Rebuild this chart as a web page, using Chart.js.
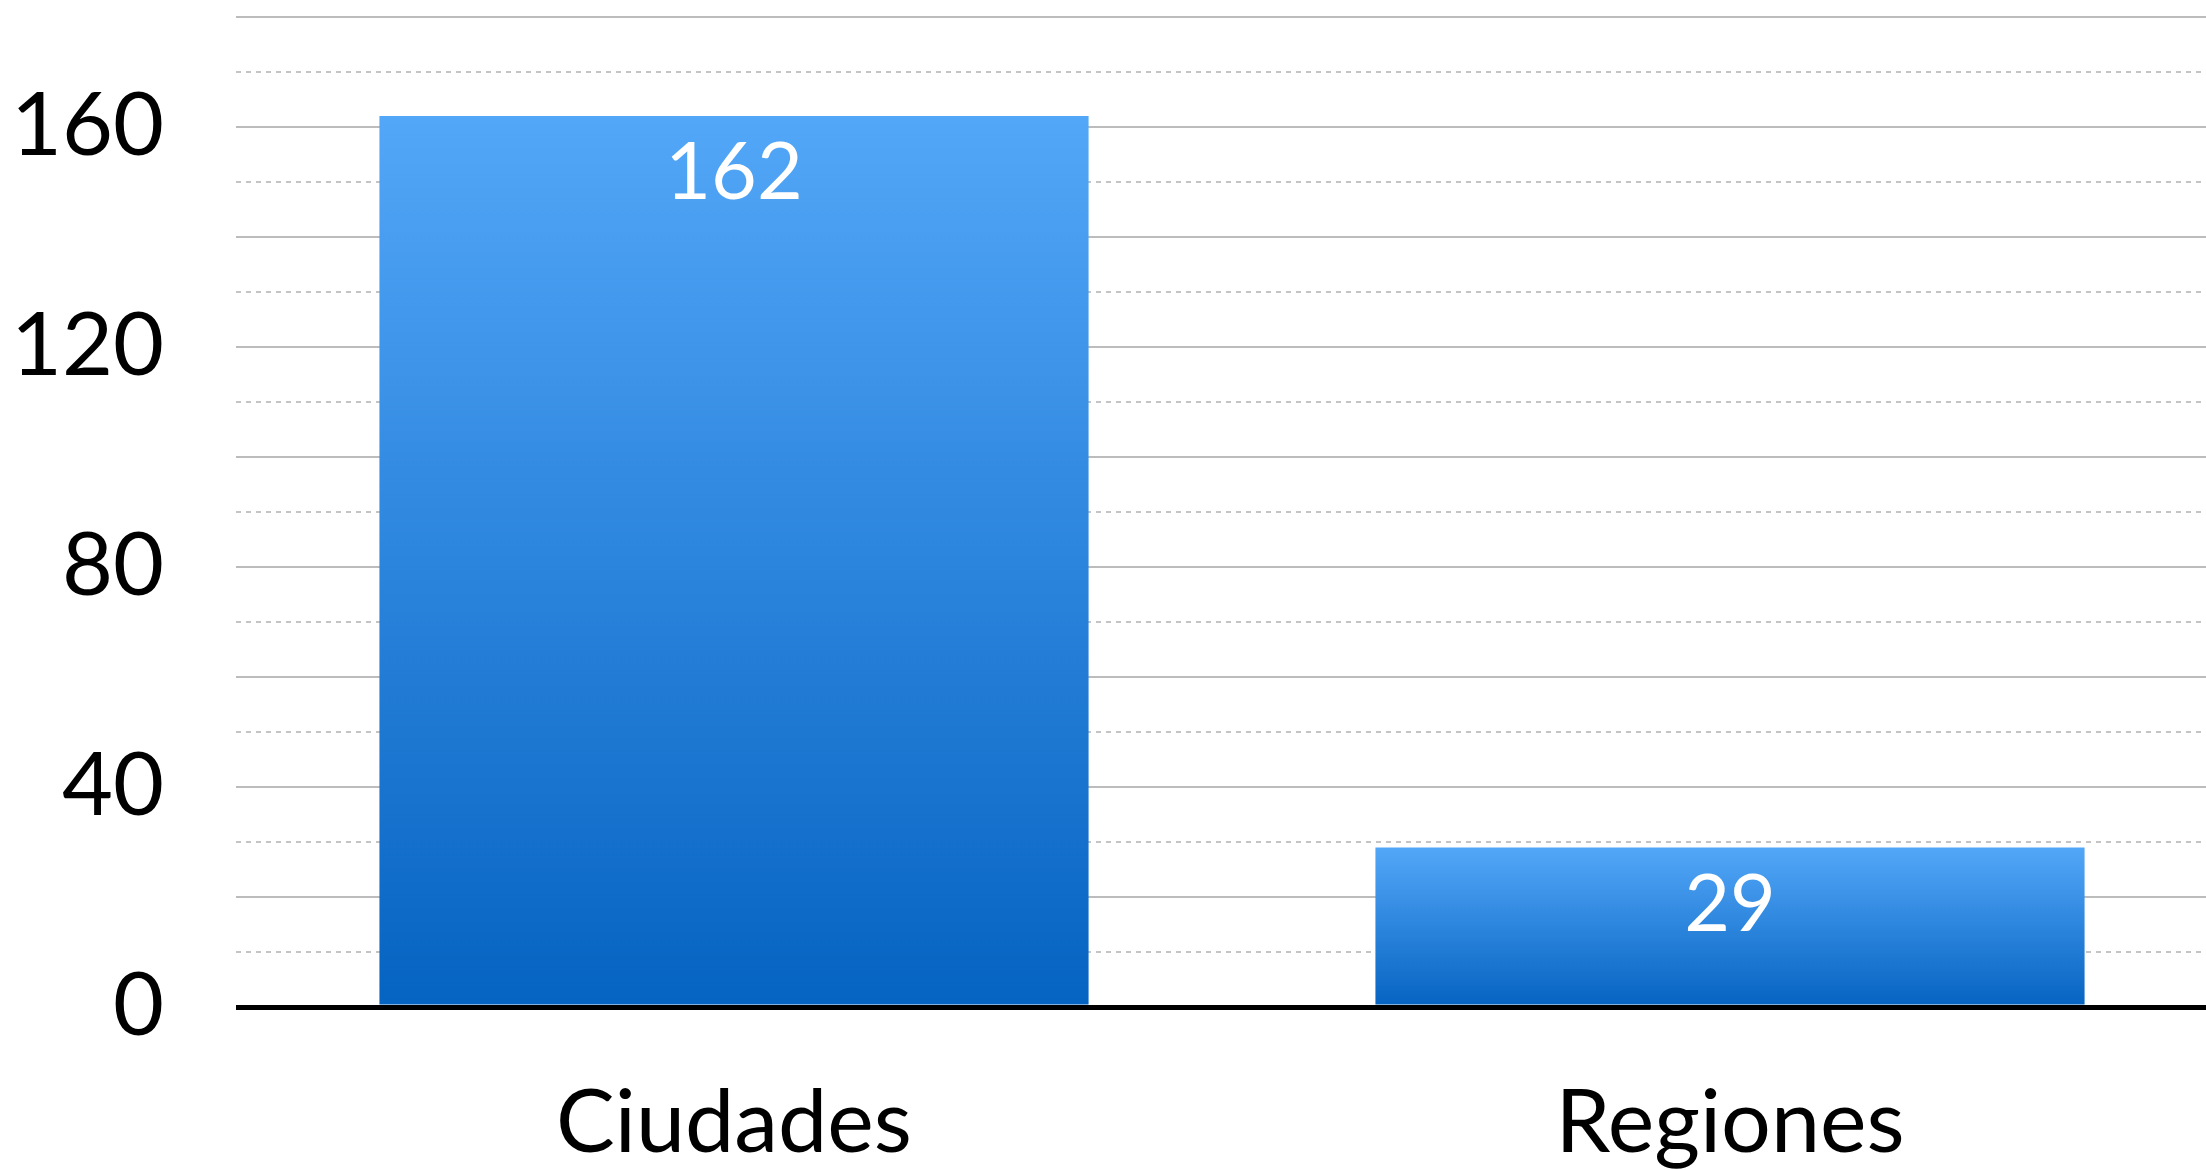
<!DOCTYPE html>
<html>
<head>
<meta charset="utf-8">
<script src="https://cdn.jsdelivr.net/npm/chart.js@4"></script>
<style>
  html, body { margin: 0; padding: 0; background: #fff; overflow: hidden; }
  #wrap { position: absolute; left: 0; top: 0; width: 2228px; height: 1170px; }
</style>
</head>
<body>
<div id="wrap"><canvas id="chart" width="2228" height="1170"></canvas></div>
<script>
const categories = ["Ciudades", "Regiones"]
const values = [162, 29]
const yTickLabels = [0, 40, 80, 120, 160]

const FONT = "Lato, 'Noto Sans', sans-serif"
const TOP_COLOR = "#53a7f8"
const BOTTOM_COLOR = "#0563c1"

// per-bar vertical gradient, light at the top of each bar, dark at its base
function barGradient(c) {
  const chart = c.chart
  if (!chart.chartArea) return TOP_COLOR
  const y = chart.scales.y
  const top = y.getPixelForValue(c.raw)
  const base = y.getPixelForValue(0)
  const g = chart.ctx.createLinearGradient(0, top, 0, base)
  g.addColorStop(0, TOP_COLOR)
  g.addColorStop(1, BOTTOM_COLOR)
  return g
}

const valueLabels = {
  id: "valueLabels",
  afterDatasetsDraw(chart) {
    const ctx = chart.ctx
    const meta = chart.getDatasetMeta(0)
    ctx.save()
    ctx.fillStyle = "#fff"
    ctx.font = "79px " + FONT
    ctx.textAlign = "center"
    ctx.textBaseline = "alphabetic"
    meta.data.forEach((bar, i) => {
      ctx.fillText(String(values[i]), bar.x, bar.y + 83)
    })
    ctx.restore()
  },
}

new Chart(document.getElementById("chart"), {
  type: "bar",
  data: {
    labels: categories,
    datasets: [
      {
        data: values,
        backgroundColor: barGradient,
        borderWidth: 0,
        categoryPercentage: 1,
        barPercentage: 0.712,
      },
    ],
  },
  options: {
    responsive: false,
    devicePixelRatio: 1,
    animation: false,
    layout: { padding: { top: 17, left: 0, right: 0, bottom: 0 } },
    plugins: {
      legend: { display: false },
      tooltip: { enabled: false },
    },
    scales: {
      x: {
        grid: { display: false, drawTicks: false },
        border: { display: false },
        ticks: {
          color: "#000",
          font: { family: FONT, size: 88 },
          padding: 64,
        },
        afterFit(scale) {
          scale.height = 163
          scale.paddingLeft = 0
          scale.paddingRight = 0
        },
      },
      y: {
        min: 0,
        max: 180,
        grid: {
          drawTicks: false,
          color: (c) =>
            c.tick.value === 0 ? "#000" : c.tick.value % 20 ? "#c4c4c4" : "#bcbcbc",
          lineWidth: (c) => (c.tick.value === 0 ? 5 : 2),
        },
        border: {
          display: false,
          dash: (c) => (c.tick && c.tick.value % 20 ? [5, 5] : []),
        },
        ticks: {
          stepSize: 10,
          autoSkip: false,
          color: "#000",
          font: { family: FONT, size: 88 },
          padding: 72,
          callback: (v) => (yTickLabels.includes(v) ? String(v) : ""),
        },
        afterFit(scale) {
          scale.width = 236
          scale.paddingTop = 0
          scale.paddingBottom = 0
        },
      },
    },
  },
  plugins: [valueLabels],
})
</script>
</body>
</html>
